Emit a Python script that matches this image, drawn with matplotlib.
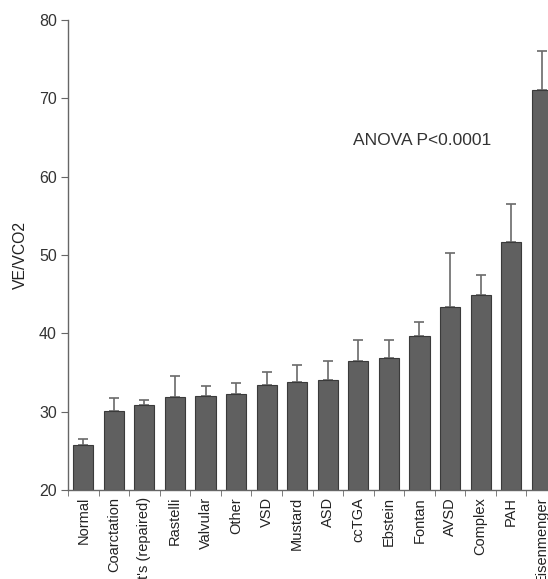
import numpy as np
import matplotlib.pyplot as plt

plt.rcParams['font.family'] = ['Liberation Sans', 'DejaVu Sans']

groups = ['Normal', 'Coarctation', "Fallot's (repaired)", 'Rastelli', 'Valvular',
          'Other', 'VSD', 'Mustard', 'ASD', 'ccTGA', 'Ebstein', 'Fontan',
          'AVSD', 'Complex', 'PAH', 'Eisenmenger']
mean_vals = [25.7, 30.1, 30.9, 31.9, 32.0, 32.3, 33.4, 33.8, 34.1, 36.5,
             36.9, 39.6, 43.3, 44.9, 51.6, 71.1]
upper_err = [0.8, 1.6, 0.6, 2.7, 1.3, 1.4, 1.7, 2.2, 2.4, 2.6,
             2.3, 1.9, 7.0, 2.5, 4.9, 4.9]
yticks = [20, 30, 40, 50, 60, 70, 80]

x = np.arange(len(groups))

fig = plt.figure(figsize=(5.48, 5.79), dpi=100)
# axes run past the right edge, the original picture is cropped there
ax = fig.add_axes([68/548, 1 - 490/579, (557 - 68)/548, 470/579])

ax.bar(x, np.array(mean_vals) - 20, bottom=20, width=0.66,
       color='#606060', edgecolor='#3a3a3a', linewidth=0.8, zorder=2)
ax.errorbar(x, mean_vals, yerr=[np.zeros(len(x)), upper_err], fmt='none',
            ecolor='#6a6a6a', elinewidth=1.2, capsize=3.5, capthick=1.2, zorder=1)

ax.set_xlim(-0.5, 15.5)
ax.set_ylim(20, 80)
ax.set_yticks(yticks)
ax.set_yticklabels([str(v) for v in yticks], fontsize=11.5, color='#333333')
ax.set_xticks(x)
ax.set_xticklabels(groups, rotation=90, fontsize=10.5, color='#222222')
ax.set_xticks(np.arange(-0.5, 16, 1), minor=True)
ax.tick_params(axis='x', which='major', length=0, pad=5)
ax.tick_params(axis='x', which='minor', length=4, color='#666666')
ax.tick_params(axis='y', length=5, color='#666666', pad=3)

for side in ['top', 'right']:
    ax.spines[side].set_visible(False)
for side in ['left', 'bottom']:
    ax.spines[side].set_color('#666666')
    ax.spines[side].set_linewidth(1.0)

ax.set_ylabel('VE/VCO2', fontsize=11.3, color='#222222', labelpad=8)
ax.text(11.1, 64.6, 'ANOVA P<0.0001', fontsize=12.5, color='#333333',
        ha='center', va='center')

fig.savefig('out.png', dpi=100)
